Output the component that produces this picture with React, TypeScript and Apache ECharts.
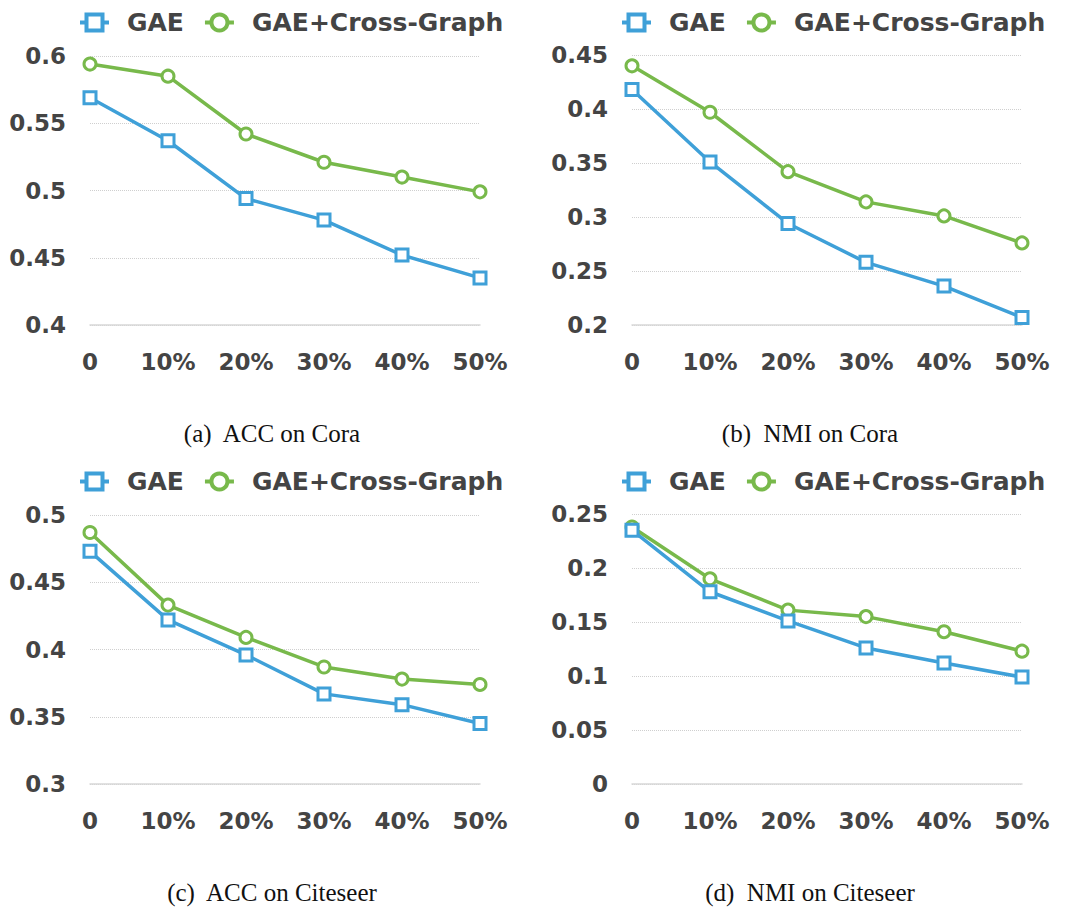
import React, { useEffect, useRef } from "react";
import * as echarts from "echarts";

const categories = ["0", "10%", "20%", "30%", "40%", "50%"];
const seriesNames = ["GAE", "GAE+Cross-Graph"];

const accCoraGAE = [0.569, 0.537, 0.494, 0.478, 0.452, 0.435];
const accCoraCG = [0.594, 0.585, 0.542, 0.521, 0.51, 0.499];
const nmiCoraGAE = [0.418, 0.351, 0.294, 0.258, 0.236, 0.207];
const nmiCoraCG = [0.44, 0.397, 0.342, 0.314, 0.301, 0.276];
const accCiteGAE = [0.473, 0.422, 0.396, 0.367, 0.359, 0.345];
const accCiteCG = [0.487, 0.433, 0.409, 0.387, 0.378, 0.374];
const nmiCiteGAE = [0.235, 0.178, 0.151, 0.126, 0.112, 0.099];
const nmiCiteCG = [0.238, 0.19, 0.161, 0.155, 0.141, 0.123];

const yRanges = [
  [0.4, 0.6],
  [0.2, 0.45],
  [0.3, 0.5],
  [0, 0.25],
];
const captions = ["(a)  ACC on Cora", "(b)  NMI on Cora", "(c)  ACC on Citeseer", "(d)  NMI on Citeseer"];

const BLUE = "#3fa0d8";
const GREEN = "#78b94b";
const TEXT = "#444444";
const FONT = "DejaVu Sans";

export default function App() {
  const ref = useRef<HTMLDivElement>(null);
  useEffect(() => {
    if (!ref.current) return;
    const chart = echarts.init(ref.current, undefined, { renderer: "svg" });
    const grids = [
      { left: 90, top: 56, width: 390, height: 269 },
      { left: 632, top: 55, width: 390, height: 270 },
      { left: 90, top: 515, width: 390, height: 269 },
      { left: 632, top: 514, width: 390, height: 270 },
    ];
    const data = [
      [accCoraGAE, accCoraCG],
      [nmiCoraGAE, nmiCoraCG],
      [accCiteGAE, accCiteCG],
      [nmiCiteGAE, nmiCiteCG],
    ];
    const legendPos = [
      { left: 78, top: 10 },
      { left: 620, top: 10 },
      { left: 78, top: 469 },
      { left: 620, top: 469 },
    ];
    const captionPos = [
      { x: 272, y: 433 },
      { x: 810, y: 433 },
      { x: 272, y: 892 },
      { x: 810, y: 892 },
    ];
    const series: any[] = [];
    data.forEach((pair, gi) => {
      series.push({
        name: seriesNames[0],
        type: "line",
        xAxisIndex: gi,
        yAxisIndex: gi,
        data: pair[0],
        symbol: "rect",
        symbolSize: 12,
        color: BLUE,
        lineStyle: { color: BLUE, width: 3.5 },
        itemStyle: { color: "#fff", borderColor: BLUE, borderWidth: 3 },
        z: 3,
      });
      series.push({
        name: seriesNames[1],
        type: "line",
        xAxisIndex: gi,
        yAxisIndex: gi,
        data: pair[1],
        symbol: "circle",
        symbolSize: 12,
        color: GREEN,
        lineStyle: { color: GREEN, width: 3.5 },
        itemStyle: { color: "#fff", borderColor: GREEN, borderWidth: 3 },
        z: 2,
      });
    });
    chart.setOption({
      animation: false,
      backgroundColor: "#fff",
      grid: grids,
      legend: legendPos.map((p) => ({
        ...p,
        padding: 0,
        data: seriesNames,
        itemWidth: 29,
        itemHeight: 20,
        itemGap: 19,
        lineStyle: { width: 4 },
        itemStyle: { borderWidth: 4 },
        textStyle: {
          fontFamily: FONT,
          fontWeight: "bold",
          fontSize: 25,
          color: TEXT,
          padding: [0, 0, 0, 13],
        },
      })),
      xAxis: grids.map((_, i) => ({
        type: "category",
        gridIndex: i,
        data: categories,
        boundaryGap: false,
        axisTick: { show: false },
        axisLine: { show: true, lineStyle: { color: "#d8d8d8", width: 1.5 } },
        axisLabel: {
          margin: 25,
          fontFamily: FONT,
          fontWeight: "bold",
          fontSize: 23,
          color: TEXT,
        },
        splitLine: { show: false },
      })),
      yAxis: grids.map((_, i) => ({
        type: "value",
        gridIndex: i,
        min: yRanges[i][0],
        max: yRanges[i][1],
        interval: 0.05,
        axisLine: { show: false },
        axisTick: { show: false },
        axisLabel: {
          margin: 24,
          fontFamily: FONT,
          fontWeight: "bold",
          fontSize: 23,
          color: TEXT,
          formatter: (v: number) => String(parseFloat(v.toFixed(2))),
        },
        splitLine: { show: true, lineStyle: { color: "#cfcfcf", type: [1, 1], width: 1 } },
      })),
      graphic: captions.map((c, i) => ({
        type: "text",
        x: captionPos[i].x,
        y: captionPos[i].y,
        style: {
          text: c,
          fontFamily: "Liberation Serif",
          fontSize: 25,
          fill: "#111",
          textAlign: "center",
          textVerticalAlign: "middle",
        },
      })),
      series,
    });
    return () => chart.dispose();
  }, []);
  return (
    <div
      ref={ref}
      style={{ position: "absolute", left: 0, top: 0, width: 1068, height: 907 }}
    />
  );
}
